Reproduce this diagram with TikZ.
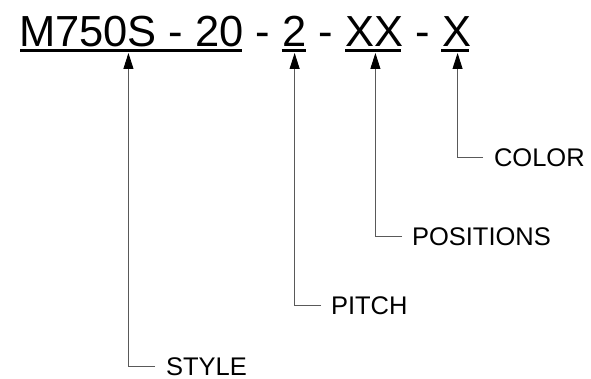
\documentclass[tikz,border=0pt]{standalone}
\usepackage{fontspec}
\setmainfont{Liberation Sans}
\usetikzlibrary{arrows.meta}
\begin{document}
\begin{tikzpicture}[x=1pt,y=-1pt,
  code/.style={inner sep=0pt, outer sep=0pt, anchor=base west, text depth=0pt, font=\fontsize{43.5}{50}\selectfont},
  lbl/.style={inner sep=0pt, outer sep=0pt, anchor=base west, font=\fontsize{25.5}{30}\selectfont},
  uline/.style={line width=3pt, black},
  conn/.style={draw=black!65, line width=0.9pt, -{Triangle[length=16pt,width=10pt,black]}}]
\useasboundingbox (0,0) rectangle (591,379);
% part code
\node[code] (s) at (19,47) {M750S - 20};
\node[code] (d1) at (s.base east) {\ -\ \null};
\node[code] (p) at (d1.base east) {2};
\node[code] (d2) at (p.base east) {\ -\ \null};
\node[code] (q) at (d2.base east) {XX};
\node[code] (d3) at (q.base east) {\ -\ \null};
\node[code] (c) at (d3.base east) {X};
% underlines
\draw[uline] ([xshift=1pt,yshift=-4pt]s.south west) -- ([xshift=-2pt,yshift=-4pt]s.south east);
\draw[uline] ([xshift=-1pt,yshift=-4pt]p.south west) -- ([xshift=-1pt,yshift=-4pt]p.south east);
\draw[uline] ([xshift=0pt,yshift=-4pt]q.south west) -- ([xshift=-2pt,yshift=-4pt]q.south east);
\draw[uline] ([xshift=-1pt,yshift=-4pt]c.south west) -- ([xshift=-2pt,yshift=-4pt]c.south east);
% labels
\node[lbl] (ls) at (166,375) {STYLE};
\node[lbl] (lp) at (331,314) {PITCH};
\node[lbl] (lq) at (412,245) {POSITIONS};
\node[lbl] (lc) at (494,167) {COLOR};
% connectors
\draw[conn] ([xshift=-11pt,yshift=9pt]ls.base west) -| ([xshift=-3pt,yshift=-6pt]s.south);
\draw[conn] ([xshift=-10pt,yshift=9pt]lp.base west) -| ([xshift=0pt,yshift=-6pt]p.south);
\draw[conn] ([xshift=-10pt,yshift=9pt]lq.base west) -| ([xshift=1pt,yshift=-6pt]q.south);
\draw[conn] ([xshift=-11pt,yshift=10pt]lc.base west) -| ([xshift=1pt,yshift=-6pt]c.south);
\end{tikzpicture}
\end{document}
